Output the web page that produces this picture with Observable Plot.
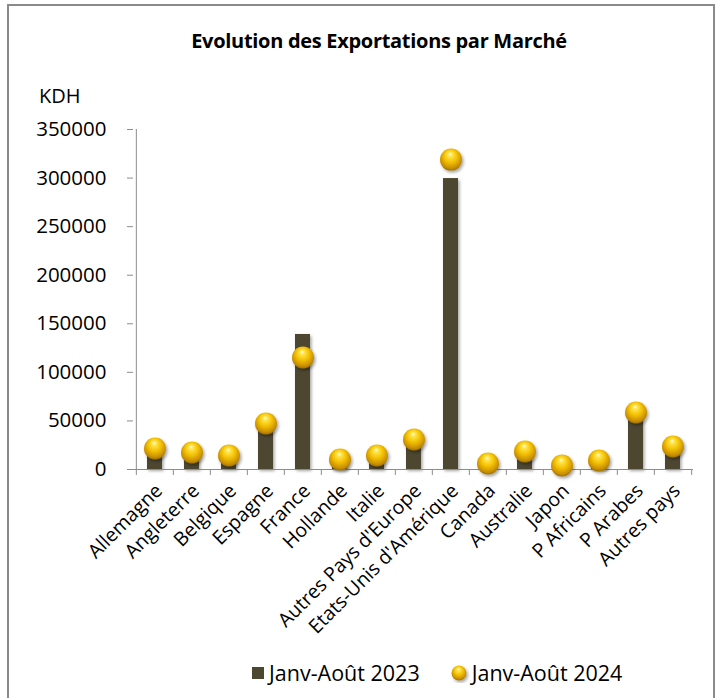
<!DOCTYPE html>
<html>
<head>
<meta charset="utf-8">
<script src="https://cdn.jsdelivr.net/npm/d3@7"></script>
<script src="https://cdn.jsdelivr.net/npm/@observablehq/plot@0.6"></script>
<style>
  body { margin: 0; background: #fff; font-family: "Open Sans", sans-serif; color: #000; }
  #wrap { position: relative; width: 720px; height: 698px; overflow: hidden; background: #fff; }
  #frame { position: absolute; left: 7px; top: 4px; width: 708px; height: 730px; border: 2px solid #8a8a8a; box-sizing: border-box; }
  #title { position: absolute; top: 27px; left: 0; width: 758px; text-align: center; font-weight: bold; font-size: 20px; letter-spacing: -0.3px; }
  #unit { position: absolute; top: 82px; left: 39px; font-size: 20px; }
  #chart { position: absolute; top: 0; left: 0; }
  #legend { position: absolute; top: 658px; left: 251px; font-size: 21.5px; display: flex; align-items: center; white-space: nowrap; }
  #legend .item { display: flex; align-items: center; }
</style>
</head>
<body>
<div id="wrap">
  <div id="frame"></div>
  <div id="chart"></div>
  <div id="title">Evolution des Exportations par Marché</div>
  <div id="unit">KDH</div>
  <div id="legend"></div>
</div>
<script>
const categories = ["Allemagne", "Angleterre", "Belgique", "Espagne", "France", "Hollande", "Italie",
  "Autres Pays d'Europe", "Etats-Unis d'Amérique", "Canada", "Australie", "Japon", "P Africains",
  "P Arabes", "Autres pays"];
const exports2023 = [18000, 14000, 11000, 42000, 139000, 7000, 11000, 27000, 299500, 3000, 14000, 2500, 6000, 52000, 20000];
const exports2024 = [21600, 17500, 14400, 47400, 115300, 10300, 14400, 30900, 319000, 6200, 18500, 4100, 9300, 58700, 23700];
const yTicks = [0, 50000, 100000, 150000, 200000, 250000, 300000, 350000];
const seriesNames = ["Janv-Août 2023", "Janv-Août 2024"];

const data = categories.map((c, i) => ({cat: c, v23: exports2023[i], v24: exports2024[i]}));

const W = 720, H = 640, mL = 133, mR = 27, mT = 129, mB = 171;
const step = (W - mL - mR) / categories.length;
const axisColor = "#8c8c8c";
const barColor = "#4d4630";

const chart = Plot.plot({
  width: W, height: H,
  marginTop: mT, marginBottom: mB, marginLeft: mL, marginRight: mR,
  style: {fontFamily: "Open Sans, sans-serif", color: "#000", background: "transparent", overflow: "visible"},
  x: {domain: categories, paddingInner: 0.6, paddingOuter: 0.3, label: null},
  y: {domain: [0, 350000], label: null},
  marks: [
    Plot.axisY({ticks: yTicks, tickSize: 6, tickPadding: 21, tickFormat: d => String(d), stroke: axisColor, fontSize: 20.5, label: null}),
    Plot.ruleX([categories[0]], {x: d => d, dx: -step / 2, stroke: axisColor}),
    Plot.barY(data, {x: "cat", y: "v23", fill: barColor}),
    Plot.ruleY([0], {stroke: axisColor}),
    Plot.axisX({ticks: categories, tickSize: 6, text: null, dx: -step / 2, stroke: axisColor, label: null}),
    Plot.axisX({ticks: [categories[categories.length - 1]], tickSize: 6, text: null, dx: step / 2, stroke: axisColor, label: null}),
    Plot.axisX({ticks: categories, tickSize: 0, tickRotate: -45, tickPadding: 18, dx: 4, fontSize: 19.5, label: null}),
    Plot.dot(data, {x: "cat", y: "v24", r: 11, fill: "url(#ballGrad)", stroke: "none"})
  ]
});

const ns = "http://www.w3.org/2000/svg";
function addDefs(svg, id, fid) {
  const defs = document.createElementNS(ns, "defs");
  defs.innerHTML = `
    <radialGradient id="${id}" cx="50%" cy="42%" r="62%" fx="46%" fy="24%">
      <stop offset="0" stop-color="#fffbe0"/>
      <stop offset="0.16" stop-color="#ffe54a"/>
      <stop offset="0.5" stop-color="#f2be00"/>
      <stop offset="0.82" stop-color="#c78e00"/>
      <stop offset="1" stop-color="#8a6200"/>
    </radialGradient>
    <filter id="${fid}" x="-50%" y="-50%" width="200%" height="200%">
      <feDropShadow dx="1.5" dy="2" stdDeviation="1.6" flood-color="#000" flood-opacity="0.35"/>
    </filter>`;
  svg.insertBefore(defs, svg.firstChild);
}
addDefs(chart, "ballGrad", "shadow");
chart.querySelectorAll('g[aria-label="dot"] circle').forEach(c => c.setAttribute("filter", "url(#shadow)"));
chart.querySelectorAll('g[aria-label="bar"] rect').forEach(c => c.setAttribute("filter", "url(#shadow)"));
document.getElementById("chart").appendChild(chart);

// legend
const legend = document.getElementById("legend");
seriesNames.forEach((name, i) => {
  const item = document.createElement("div");
  item.className = "item";
  item.style.marginRight = i === 0 ? "30px" : "0";
  const s = document.createElementNS(ns, "svg");
  s.setAttribute("width", i === 0 ? 18 : 22);
  s.setAttribute("height", 20);
  if (i === 0) {
    s.innerHTML = `<rect x="1" y="4" width="12" height="12" fill="${barColor}"/>`;
  } else {
    addDefs(s, "legBall", "legShadow");
    const c = document.createElementNS(ns, "circle");
    c.setAttribute("cx", 9); c.setAttribute("cy", 10); c.setAttribute("r", 7.5);
    c.setAttribute("fill", "url(#legBall)");
    c.setAttribute("filter", "url(#legShadow)");
    s.appendChild(c);
  }
  const t = document.createElement("span");
  t.textContent = name;
  item.appendChild(s);
  item.appendChild(t);
  legend.appendChild(item);
});
</script>
</body>
</html>
